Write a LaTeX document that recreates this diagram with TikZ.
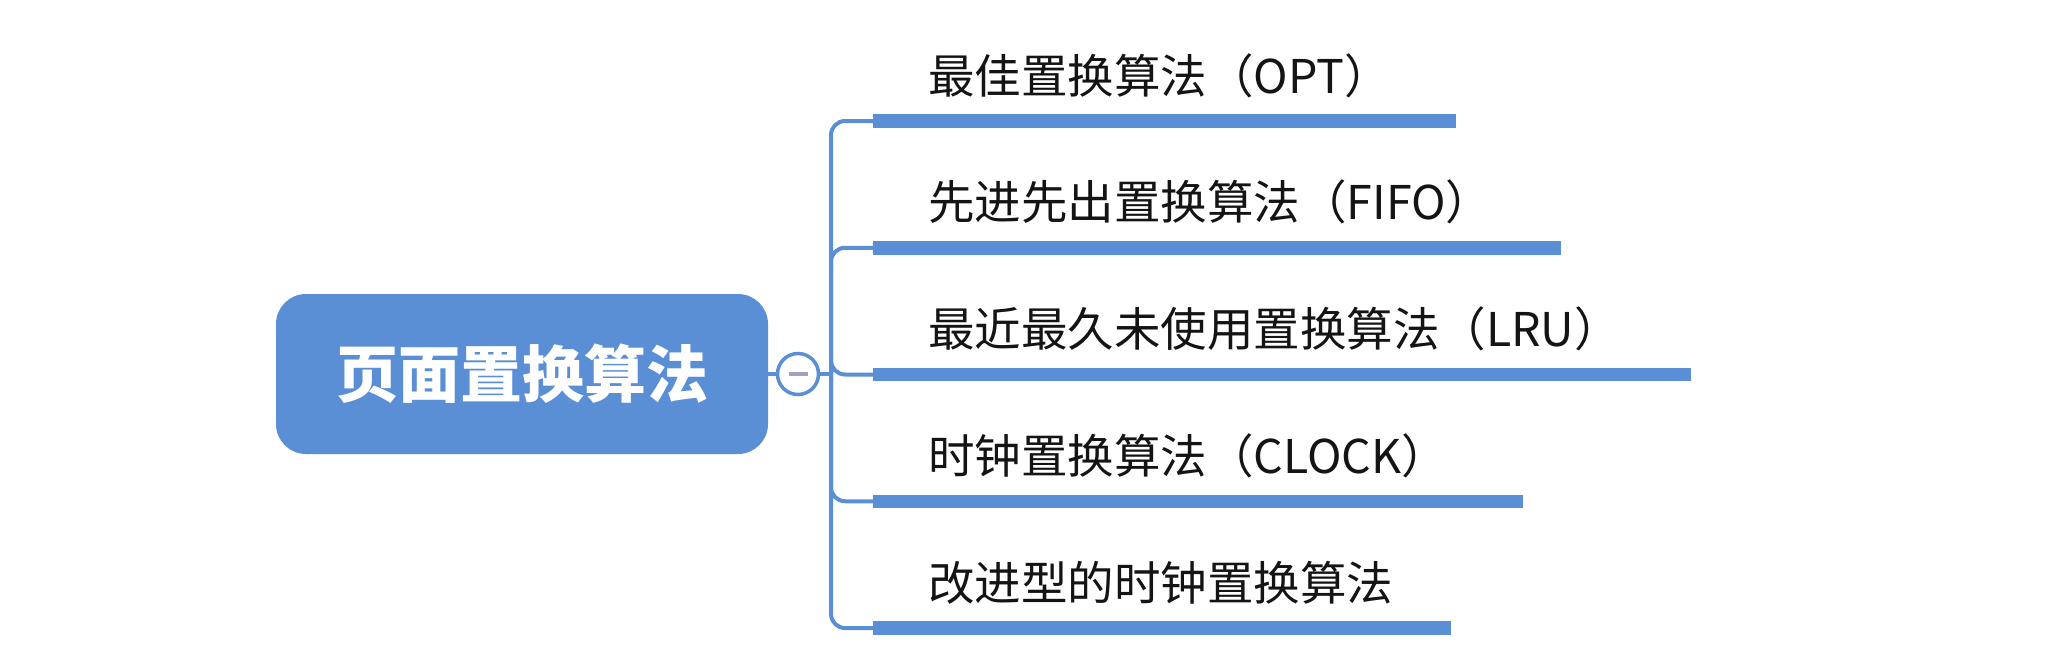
\documentclass[tikz,border=0pt]{standalone}
\usepackage{fontspec}
\newfontfamily\cjk{Noto Sans CJK SC}
\definecolor{mmblue}{RGB}{90,143,213}
\definecolor{minusc}{RGB}{160,160,192}
\definecolor{leaftext}{RGB}{20,20,20}
\begin{document}
\begin{tikzpicture}[x=1pt,y=-1pt,
  rootbox/.style={fill=mmblue, rounded corners=30pt, minimum width=492pt, minimum height=160pt,
    inner sep=0pt, text=white, font=\cjk\bfseries\fontsize{62}{74}\selectfont},
  collapse/.style={circle, draw=mmblue, line width=3.5pt, fill=white, minimum size=41pt, inner sep=0pt},
  minusline/.style={draw=minusc, line width=4pt},
  conn/.style={draw=mmblue, line width=4pt},
  branch/.style={conn, rounded corners=14pt},
  barline/.style={draw=mmblue, line width=13.5pt, line cap=butt},
  leaf/.style={anchor=base west, inner sep=0pt, text=leaftext, font=\cjk\fontsize{46.5}{56}\selectfont}
]
\useasboundingbox (0,0) rectangle (2048,662);

\node[rootbox] (root) at (522,374) {\raisebox{-3pt}{页面置换算法}};
\node[collapse] (col) at (798,374) {};
\draw[minusline] ([xshift=-9.5pt]col.center) -- ([xshift=9.5pt]col.center);

\coordinate (j) at (831,374);
\draw[conn] (root.east) -- (col.west);
\draw[conn] (col.east) -- (j);

% bars
\coordinate (s1) at (873,121);    \coordinate (e1) at (1456,121);
\coordinate (s2) at (873,247.75); \coordinate (e2) at (1561,247.75);
\coordinate (s3) at (873,374.5);  \coordinate (e3) at (1691,374.5);
\coordinate (s4) at (873,501.25); \coordinate (e4) at (1523,501.25);
\coordinate (s5) at (873,628);    \coordinate (e5) at (1451,628);

\foreach \i in {1,...,5}{
  \draw[branch] (j) |- (s\i);
  \draw[barline] (s\i) -- (e\i);
}

\node[leaf] (t1) at (928,93) {最佳置换算法（OPT）};
\node[leaf] (t2) at (928,219.75) {先进先出置换算法（FIFO）};
\node[leaf] (t3) at (928,346.5) {最近最久未使用置换算法（LRU）};
\node[leaf] (t4) at (928,473.25) {时钟置换算法（CLOCK）};
\node[leaf] (t5) at (928,600) {改进型的时钟置换算法};
\end{tikzpicture}
\end{document}
